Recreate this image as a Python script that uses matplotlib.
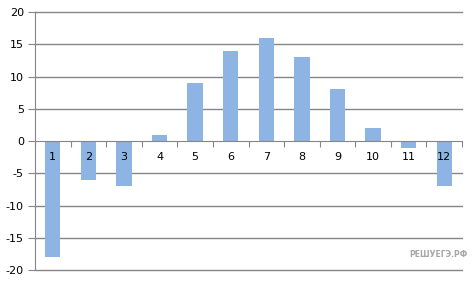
import matplotlib
matplotlib.use('Agg')
from matplotlib import pyplot as plt

plt.rcParams['axes.unicode_minus'] = False

months = ['1', '2', '3', '4', '5', '6', '7', '8', '9', '10', '11', '12']
values = [-18, -6, -7, 1, 9, 14, 16, 13, 8, 2, -1, -7]
y_ticks = [-20, -15, -10, -5, 0, 5, 10, 15, 20]

grey = '#868686'

fig = plt.figure(figsize=(4.72, 2.81), dpi=100)
ax = fig.add_axes([0.074, 0.039, 0.905, 0.918])

x = list(range(len(months)))
ax.bar(x, values, width=0.43, color='#8EB4E3', zorder=3)

ax.set_xlim(-0.5, len(months) - 0.5)
ax.set_ylim(-20, 20)
ax.set_yticks(y_ticks)
for t in y_ticks:
    if t != 0:
        ax.axhline(t, color=grey, linewidth=1, zorder=1, clip_on=False)

for s in ['top', 'right']:
    ax.spines[s].set_visible(False)
ax.spines['left'].set_color(grey)
ax.spines['bottom'].set_color(grey)
ax.spines['bottom'].set_position(('data', 0))
ax.spines['bottom'].set_zorder(4)

ax.set_xticks([i - 0.5 for i in range(len(months) + 1)])
ax.set_xticklabels([])
ax.tick_params(axis='x', length=4, color=grey, direction='out')
ax.tick_params(axis='y', length=5, color=grey, labelsize=8, pad=3)

for i, m in zip(x, months):
    ax.annotate(m, (i, 0), xytext=(0, -16), textcoords='offset pixels',
                ha='center', va='center', fontsize=8, zorder=5)

fig.text(0.99, 0.095, 'РЕШУЕГЭ.РФ', fontsize=5.5, color='#a6a6a6',
         fontweight='bold', ha='right', va='center')

fig.savefig('out.png', dpi=100)
